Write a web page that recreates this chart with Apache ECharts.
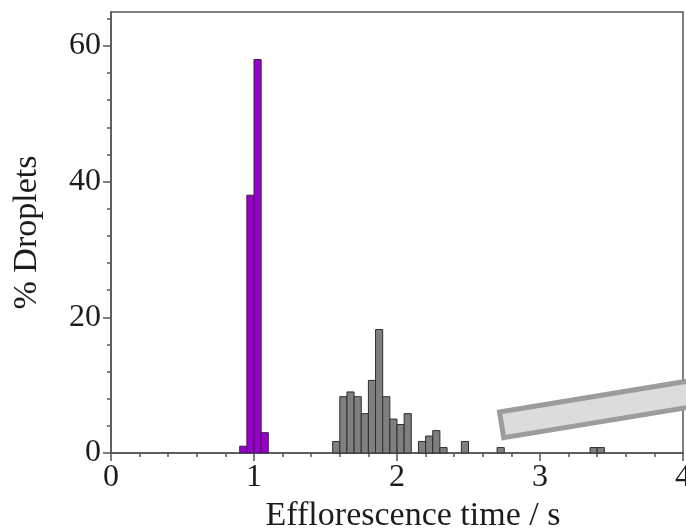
<!DOCTYPE html>
<html>
<head>
<meta charset="utf-8">
<script src="https://cdn.jsdelivr.net/npm/echarts@6/dist/echarts.min.js"></script>
<style>
  html, body { margin: 0; padding: 0; background: #ffffff; }
  #chart { width: 686px; height: 532px; }
</style>
</head>
<body>
<div id="chart"></div>
<script>
// Histogram bins are 0.05 s wide; each array holds the left edge of a bin
const binWidth = 0.05;

const fastStarts = [0.90, 0.95, 1.00, 1.05];
const fastPercent = [1.0, 38.0, 58.0, 3.0];

const slowStarts = [1.55, 1.60, 1.65, 1.70, 1.75, 1.80, 1.85, 1.90, 1.95, 2.00,
                    2.05, 2.15, 2.20, 2.25, 2.30, 2.45, 2.70, 3.35, 3.40];
const slowPercent = [1.7, 8.3, 9.0, 8.3, 5.8, 10.7, 18.2, 8.3, 5.0, 4.2,
                     5.8, 1.7, 2.5, 3.3, 0.8, 1.7, 0.8, 0.8, 0.8];

const xTicks = [0, 1, 2, 3, 4];
const yTicks = [0, 20, 40, 60];
const yMinorTicks = [4, 8, 12, 16, 24, 28, 32, 36, 44, 48, 52, 56, 64];

const serif = '"Liberation Serif", "Times New Roman", serif';
const axisColor = '#555555';
const textColor = '#1c1c1c';

function toBins(starts, values) {
  return starts.map((s, i) => [s, +(s + binWidth).toFixed(3), values[i]]);
}

function histRenderer(fill, stroke) {
  return function (params, api) {
    const base = api.coord([api.value(0), 0]);
    const top = api.coord([api.value(1), api.value(2)]);
    return {
      type: 'rect',
      shape: {
        x: base[0],
        y: top[1],
        width: top[0] - base[0],
        height: base[1] - top[1]
      },
      style: { fill: fill, stroke: stroke, lineWidth: 1 }
    };
  };
}

const chart = echarts.init(document.getElementById('chart'), null, { renderer: 'canvas' });

chart.setOption({
  backgroundColor: '#ffffff',
  animation: false,
  grid: {
    left: 111, right: 3, top: 12, bottom: 79,
    outerBoundsMode: 'none',
    containLabel: false,
    show: true,
    borderColor: axisColor,
    borderWidth: 1.5,
    backgroundColor: 'transparent'
  },
  xAxis: {
    type: 'value',
    min: 0,
    max: 4,
    interval: 1,
    name: 'Efflorescence time / s',
    nameLocation: 'middle',
    nameGap: 45,
    nameTextStyle: { fontFamily: serif, fontSize: 34, color: textColor, padding: [0, 0, 0, 32] },
    axisLine: { show: true, onZero: false, lineStyle: { color: axisColor, width: 1.5 } },
    axisTick: { show: true, inside: false, length: 8, lineStyle: { color: axisColor, width: 1.5 },
                customValues: xTicks },
    minorTick: { show: true, splitNumber: 5, length: 4, lineStyle: { color: axisColor, width: 1.5 } },
    axisLabel: { fontFamily: serif, fontSize: 32, color: textColor, margin: 9, customValues: xTicks },
    splitLine: { show: false }
  },
  yAxis: [
    {
      type: 'value',
      min: 0,
      max: 65,
      name: '% Droplets',
      nameLocation: 'middle',
      nameRotate: 90,
      nameGap: 67,
      nameTextStyle: { fontFamily: serif, fontSize: 34, color: textColor },
      axisLine: { show: true, onZero: false, lineStyle: { color: axisColor, width: 1.5 } },
      axisTick: { show: true, inside: false, length: 8, lineStyle: { color: axisColor, width: 1.5 },
                  customValues: yTicks },
      axisLabel: { fontFamily: serif, fontSize: 32, color: textColor, margin: 10, customValues: yTicks },
      splitLine: { show: false }
    },
    {
      type: 'value',
      min: 0,
      max: 65,
      position: 'left',
      axisLine: { show: false },
      axisTick: { show: true, inside: false, length: 4, lineStyle: { color: axisColor, width: 1.5 },
                  customValues: yMinorTicks },
      axisLabel: { show: false },
      splitLine: { show: false }
    }
  ],
  series: [
    {
      type: 'custom',
      name: 'fast',
      renderItem: histRenderer('#9900cc', '#3d1f4a'),
      encode: { x: [0, 1], y: 2 },
      data: toBins(fastStarts, fastPercent),
      z: 3
    },
    {
      type: 'custom',
      name: 'slow',
      renderItem: histRenderer('#7f7f7f', '#2e2e2e'),
      encode: { x: [0, 1], y: 2 },
      data: toBins(slowStarts, slowPercent),
      z: 3
    }
  ],
  graphic: [
    {
      // tilted slab drawn over the lower right of the frame
      type: 'polygon',
      z: 100,
      shape: {
        points: [[499.5, 412], [700, 379.1], [704.2, 404.8], [503.7, 437.7]]
      },
      style: { fill: '#dcdcdc', stroke: '#9c9c9c', lineWidth: 5, lineJoin: 'miter' }
    }
  ]
});
</script>
</body>
</html>
